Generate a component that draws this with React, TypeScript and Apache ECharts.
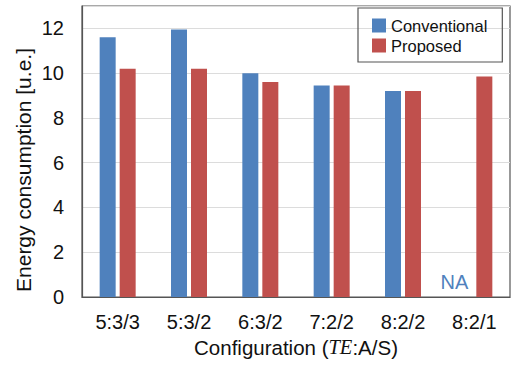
import React, { useEffect, useRef } from "react";
import * as echarts from "echarts";

const categories = ["5:3/3", "5:3/2", "6:3/2", "7:2/2", "8:2/2", "8:2/1"];
const conventional: (number | null)[] = [11.6, 11.95, 10.0, 9.45, 9.2, null];
const proposed = [10.2, 10.2, 9.6, 9.45, 9.2, 9.85];
const yTicks = [0, 2, 4, 6, 8, 10, 12];

const FONT = "'Liberation Sans', Arial, Helvetica, sans-serif";
const BLUE = "#4f81bd";
const RED = "#c0504d";

export default function App() {
  const ref = useRef<HTMLDivElement>(null);
  useEffect(() => {
    if (!ref.current) return;
    const chart = echarts.init(ref.current, null, { renderer: "svg" });
    const convData = conventional.map((v) =>
      v === null
        ? {
            value: 0,
            label: {
              show: true,
              position: "top",
              distance: 5,
              offset: [-10, 0],
              formatter: "NA",
              color: BLUE,
              fontSize: 20,
              fontFamily: FONT,
            },
          }
        : v
    );
    chart.setOption({
      animation: false,
      textStyle: { fontFamily: FONT },
      grid: {
        left: 82,
        right: 4,
        top: 6,
        bottom: 68,
        show: true,
        borderColor: "#555",
        borderWidth: 1.2,
        backgroundColor: "transparent",
      },
      legend: {
        orient: "vertical",
        left: 358,
        top: 8,
        width: 145,
        itemWidth: 14,
        itemHeight: 14,
        itemGap: 3,
        padding: [9, 15, 8, 14],
        borderColor: "#555",
        borderWidth: 1.2,
        icon: "rect",
        textStyle: { fontSize: 16.5, color: "#111", fontFamily: FONT },
        data: ["Conventional", "Proposed"],
      },
      xAxis: {
        type: "category",
        data: categories,
        axisLine: { show: true, lineStyle: { color: "#555", width: 1.2 } },
        axisTick: { show: false },
        axisLabel: { fontSize: 20, color: "#111", margin: 15, fontFamily: FONT },
        name: "Configuration ({it|TE}:A/S)",
        nameLocation: "middle",
        nameGap: 37,
        nameTextStyle: {
          fontSize: 20.5,
          color: "#111",
          fontFamily: FONT,
          verticalAlign: "top",
          rich: {
            it: {
              fontSize: 20.5,
              fontStyle: "italic",
              fontFamily: "'Liberation Serif', 'Times New Roman', serif",
              color: "#111",
            },
          },
        },
      },
      yAxis: {
        type: "value",
        min: 0,
        max: 13,
        interval: 2,
        axisLine: { show: true, lineStyle: { color: "#555", width: 1.2 } },
        axisTick: { show: false },
        axisLabel: {
          fontSize: 20,
          color: "#111",
          margin: 18,
          fontFamily: FONT,
          formatter: (v: number) => (yTicks.includes(v) ? String(v) : ""),
        },
        splitLine: { show: true, lineStyle: { color: "#dcdcdc", width: 1 } },
      },
      graphic: [
        {
          type: "text",
          x: 13,
          y: 170,
          rotation: Math.PI / 2,
          style: {
            text: "Energy consumption [u.e.]",
            fontSize: 21,
            fontFamily: FONT,
            fill: "#111",
            align: "center",
            verticalAlign: "top",
          },
        },
      ],
      series: [
        {
          name: "Conventional",
          type: "bar",
          data: convData,
          barWidth: 16,
          barGap: "25%",
          itemStyle: { color: BLUE },
        },
        {
          name: "Proposed",
          type: "bar",
          data: proposed,
          barWidth: 16,
          itemStyle: { color: RED },
        },
      ],
    });
    return () => chart.dispose();
  }, []);
  return <div ref={ref} style={{ width: 514, height: 365, position: "absolute", left: 0, top: 0 }} />;
}
